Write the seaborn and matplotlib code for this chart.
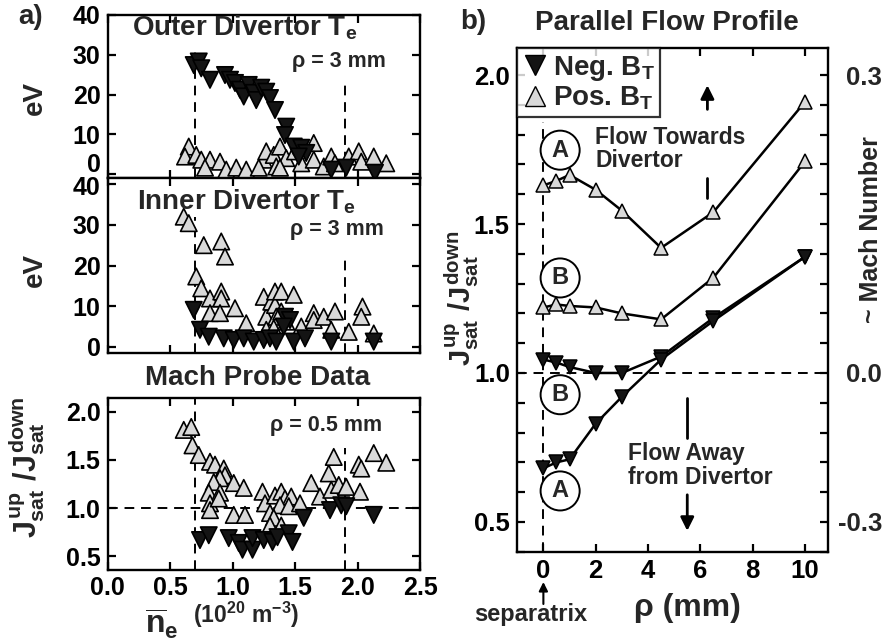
import numpy as np
import pandas as pd
import matplotlib
matplotlib.use('Agg')
import matplotlib.pyplot as plt
from matplotlib.lines import Line2D
from matplotlib.ticker import MultipleLocator
from matplotlib.transforms import offset_copy
import seaborn as sns

# ---- values ----
# a) outer divertor Te (eV) vs line averaged density (1e20 m^-3)
outer_neg_ne = [0.69, 0.73, 0.75, 0.82, 0.94, 0.98, 1.02, 1.06, 1.09, 1.13, 1.17, 1.19, 1.23,
                1.27, 1.30, 1.34, 1.43, 1.42, 1.49, 1.55, 1.59, 1.53, 1.79, 1.91, 2.14]
outer_neg_te = [27.4, 28.3, 26.6, 23.7, 24.9, 23.7, 22.9, 21.2, 19.5, 22.4, 20.4, 18.6, 21.7,
                20.7, 19.1, 16.1, 11.9, 9.8, 6.9, 6.6, 5.3, 4.4, 1.1, 1.6, 0.3]
outer_pos_ne = [0.65, 0.62, 0.71, 0.75, 0.82, 0.90, 0.78, 0.95, 1.03, 1.11, 1.25, 1.27, 1.33, 1.38, 1.35,
                1.43, 1.50, 1.55, 1.65, 1.65, 1.73, 1.79, 1.82, 1.93, 2.01, 2.03, 2.13, 2.23, 1.38, 1.21]
outer_pos_te = [6.9, 4.4, 4.8, 3.6, 3.6, 3.1, 1.6, 1.1, 1.6, 1.1, 3.6, 5.7, 4.8, 6.9, 1.9,
                4.0, 5.7, 2.7, 7.8, 3.6, 1.9, 4.4, 2.7, 4.4, 5.7, 3.1, 4.4, 2.7, 1.6, 1.6]

# inner divertor Te
inner_neg_ne = [0.69, 0.74, 0.81, 0.93, 1.01, 1.09, 1.17, 1.25, 1.30, 1.35, 1.42, 1.46, 1.49,
                1.58, 1.79, 2.13, 1.41]
inner_neg_te = [9.1, 4.2, 2.5, 2.1, 1.7, 2.1, 1.3, 1.7, 2.1, 1.3, 7.4, 6.6, 1.3, 2.1, 1.3, 1.3, 5.0]
inner_pos_ne = [0.61, 0.65, 0.77, 0.91, 0.94, 0.71, 0.75, 0.82, 0.91, 0.91, 0.82, 0.90, 1.02, 1.11,
                1.25, 1.27, 1.31, 1.34, 1.34, 1.39, 1.49, 1.35, 1.27, 1.33, 1.39, 1.43, 1.55, 1.65,
                1.65, 1.73, 1.82, 1.79, 1.93, 2.04, 2.03, 2.13]
inner_pos_te = [32.0, 30.4, 25.0, 25.9, 22.2, 17.3, 14.4, 11.9, 13.6, 11.9, 8.3, 8.3, 9.5, 5.8,
                12.3, 7.4, 11.1, 13.6, 10.3, 13.6, 12.8, 7.4, 4.2, 4.6, 8.7, 6.2, 5.0, 8.3,
                6.6, 7.4, 8.7, 4.2, 3.7, 9.9, 7.4, 3.3]

# mach probe ratio Jsat_up / Jsat_down at rho = 0.5 mm
mach_neg_ne = [0.74, 0.81, 0.97, 1.05, 1.08, 1.16, 1.16, 1.25, 1.32, 1.36, 1.45, 1.48, 1.57,
               1.78, 1.87, 1.91, 2.13]
mach_neg_j = [0.67, 0.72, 0.69, 0.64, 0.57, 0.57, 0.69, 0.67, 0.65, 0.70, 0.74, 0.65, 0.90,
              0.98, 1.03, 1.02, 0.93]
mach_pos_ne = [0.61, 0.67, 0.68, 0.73, 0.82, 0.86, 0.93, 0.94, 0.90, 0.85, 1.01, 1.09, 0.81, 0.90,
               0.82, 0.82, 0.89, 1.01, 1.10, 1.24, 1.26, 1.30, 1.34, 1.39, 1.42, 1.47, 1.38, 1.45,
               1.33, 1.30, 1.39, 1.54, 1.63, 1.70, 1.77, 1.79, 1.81, 1.85, 1.91, 2.01, 2.03, 2.13,
               2.23, 2.02]
mach_pos_j = [1.81, 1.84, 1.65, 1.55, 1.48, 1.45, 1.41, 1.34, 1.31, 1.27, 1.26, 1.21, 1.16, 1.16,
              1.05, 0.98, 1.10, 0.93, 0.93, 1.17, 1.05, 0.95, 1.13, 1.17, 1.10, 1.12, 1.03, 1.02,
              0.90, 0.82, 0.82, 1.05, 1.26, 1.12, 1.36, 1.19, 1.53, 1.24, 1.22, 1.45, 1.41, 1.57,
              1.47, 1.17]

# b) parallel flow profile vs rho (mm)
rho = [0, 0.5, 1, 2, 3, 4.5, 6.5, 10]
pos_a = [1.63, 1.645, 1.665, 1.615, 1.545, 1.42, 1.54, 1.91]
pos_b = [1.22, 1.23, 1.225, 1.22, 1.20, 1.18, 1.32, 1.71]
neg_b = [1.045, 1.035, 1.02, 1.0, 1.0, 1.055, 1.185, 1.39]
neg_a = [0.68, 0.70, 0.71, 0.83, 0.92, 1.045, 1.175, 1.39]

ne_ticks = [0.0, 0.5, 1.0, 1.5, 2.0, 2.5]
te_ticks = [0, 10, 20, 30, 40]
mach_ticks = [0.5, 1.0, 1.5, 2.0]
rho_ticks = [0, 2, 4, 6, 8, 10]

sns.set_style('ticks')
plt.rcParams['font.family'] = ['Liberation Sans', 'DejaVu Sans']
plt.rcParams['font.weight'] = 'bold'
plt.rcParams['mathtext.fontset'] = 'custom'
plt.rcParams['mathtext.rm'] = 'Liberation Sans:bold'
plt.rcParams['mathtext.it'] = 'Liberation Sans:bold'
plt.rcParams['mathtext.bf'] = 'Liberation Sans:bold'

W, H = 888, 641
fig = plt.figure(figsize=(W / 100, H / 100), dpi=100)


def box(l, t, r, b):
    return fig.add_axes([l / W, 1 - b / H, (r - l) / W, (b - t) / H])


def txt(x, y, s, size, **kw):
    kw.setdefault('va', 'center')
    return fig.text(x / W, 1 - y / H, s, fontsize=size, fontweight='bold', **kw)


def style(ax, size, pad):
    ax.tick_params(which='both', direction='in', top=True, right=True, length=5.5, width=1.6,
                   labelsize=size, pad=pad, colors='black')
    ax.set_xlabel('')
    ax.set_ylabel('')
    for sp in ax.spines.values():
        sp.set_linewidth(1.7)
        sp.set_color('black')


ax1 = box(107.5, 15, 420, 178)
ax2 = box(107.5, 178, 420, 353)
ax3 = box(107.5, 398, 420, 570)
axb = box(516.7, 48.3, 828, 551.7)

pal = {'Neg': '#141414', 'Pos': '#d9d9d9'}
mk = {'Neg': 'v', 'Pos': '^'}

panels = [
    (ax1, outer_neg_ne, outer_neg_te, outer_pos_ne, outer_pos_te),
    (ax2, inner_neg_ne, inner_neg_te, inner_pos_ne, inner_pos_te),
    (ax3, mach_neg_ne, mach_neg_j, mach_pos_ne, mach_pos_j),
]
for ax, nx, ny, px, py in panels:
    df = pd.concat([pd.DataFrame({'ne': px, 'val': py, 'field': 'Pos'}),
                    pd.DataFrame({'ne': nx, 'val': ny, 'field': 'Neg'})], ignore_index=True)
    sns.scatterplot(data=df, x='ne', y='val', hue='field', style='field', palette=pal,
                    markers=mk, s=140, edgecolor='black', linewidth=1.2, legend=False,
                    ax=ax, zorder=3)
    style(ax, 18, 5)
    ax.set_xlim(0, 2.5)
    ax.set_xticks(ne_ticks, [f'{v:.1f}' for v in ne_ticks])

dash = dict(color='black', lw=1.4, ls=(0, (5, 3.5)), zorder=2)

ax1.set_ylim(-1, 40)
ax1.set_yticks(te_ticks, [str(v) for v in te_ticks])
ax1.tick_params(labelbottom=False)
lab0 = ax1.yaxis.get_major_ticks()[0].label1
lab0.set_transform(offset_copy(lab0.get_transform(), fig=fig, y=8, units='points'))
ax1.axvline(0.7, ymax=0.785, **dash)
ax1.axvline(1.9, ymax=0.58, **dash)

ax2.set_ylim(-1.5, 41.5)
ax2.set_yticks(te_ticks, [str(v) for v in te_ticks])
ax2.tick_params(labelbottom=False)
lab40 = ax2.yaxis.get_major_ticks()[-1].label1
lab40.set_transform(offset_copy(lab40.get_transform(), fig=fig, y=-1, units='points'))
ax2.axvline(0.7, ymax=0.78, **dash)
ax2.axvline(1.9, ymax=0.55, **dash)

ax3.set_ylim(0.36, 2.14)
ax3.set_yticks(mach_ticks, [f'{v:.1f}' for v in mach_ticks])
ax3.tick_params(axis='x', pad=4)
ax3.axvline(0.7, **dash)
ax3.axvline(1.9, ymax=0.71, **dash)
ax3.axhline(1.0, **dash)

# ---- b) parallel flow profile ----
curves = [(pos_a, '^', '#d9d9d9'), (pos_b, '^', '#d9d9d9'),
          (neg_b, 'v', '#141414'), (neg_a, 'v', '#141414')]
for vals, m, fc in curves:
    sns.lineplot(x=rho, y=vals, ax=axb, color='black', lw=1.8, marker=m, markersize=10,
                 markerfacecolor=fc, markeredgecolor='black', markeredgewidth=1.1,
                 legend=False, zorder=3)
style(axb, 18.5, 5)
axb.set_xlim(-1.02, 10.88)
axb.set_xticks(rho_ticks, [str(v) for v in rho_ticks])
axb.set_ylim(0.40, 2.09)
axb.set_yticks(mach_ticks, [f'{v:.1f}' for v in mach_ticks])
axb.yaxis.set_minor_locator(MultipleLocator(0.1))
axb.tick_params(axis='x', which='minor', bottom=False, top=False)
axb.axhline(1.0, **dash)
axb.axvline(0.0, ymax=0.854, **dash)

k = 0.3 / np.log(2)
sec = axb.secondary_yaxis('right', functions=(lambda j: k * np.log(np.clip(j, 1e-6, None)),
                                              lambda m: np.exp(m / k)))
sec.set_yticks([-0.3, 0.0, 0.3], ['-0.3', '0.0', '0.3'])
sec.tick_params(direction='in', length=0, labelsize=18.5, pad=39)
for lab in sec.get_yticklabels():
    lab.set_ha('right')
sec.spines['right'].set_visible(False)

handles = [Line2D([], [], ls='none', marker='v', markersize=15, mfc='#141414', mec='black'),
           Line2D([], [], ls='none', marker='^', markersize=15, mfc='#d9d9d9', mec='black')]
leg = axb.legend(handles, ['Neg. B$_T$', 'Pos. B$_T$'], loc='upper left', fontsize=20,
                 frameon=True, fancybox=False, borderaxespad=0, handletextpad=0.2,
                 handlelength=0.9, borderpad=0.2, labelspacing=0.05)
leg.get_frame().set_edgecolor('black')
leg.get_frame().set_linewidth(1.6)

circ = dict(boxstyle='circle,pad=0.34', fc='white', ec='black', lw=1.4)
for (cx, cy, s) in [(0.64, 1.748, 'A'), (0.64, 1.319, 'B'), (0.64, 0.927, 'B'), (0.64, 0.604, 'A')]:
    axb.text(cx, cy, s, ha='center', va='center', fontsize=17, fontweight='bold', bbox=circ, zorder=4)

axb.text(1.98, 1.752, 'Flow Towards\nDivertor', fontsize=16.5, fontweight='bold', va='center',
         linespacing=1.05)
axb.text(3.25, 0.690, 'Flow Away\nfrom Divertor', fontsize=16.5, fontweight='bold', va='center',
         linespacing=1.05)
arr = dict(arrowstyle='-|>', color='black', lw=2.0, mutation_scale=20, shrinkA=0, shrinkB=0)
axb.annotate('', xy=(6.27, 1.966), xytext=(6.27, 1.885), arrowprops=arr)
axb.plot([6.27, 6.27], [1.587, 1.654], color='black', lw=2.0)
axb.plot([5.5, 5.5], [0.782, 0.916], color='black', lw=2.0)
axb.annotate('', xy=(5.5, 0.470), xytext=(5.5, 0.591), arrowprops=arr)
axb.annotate('', xy=(0, 1 - 582 / H), xytext=(0, 1 - 604 / H),
             xycoords=('data', 'figure fraction'), textcoords=('data', 'figure fraction'),
             arrowprops=dict(arrowstyle='-|>', color='black', lw=1.5, mutation_scale=13,
                             shrinkA=0, shrinkB=0), annotation_clip=False)

# ---- titles and labels ----
txt(18, 17, 'a)', 20)
txt(460, 22, 'b)', 20)
txt(132, 28, 'Outer Divertor T$_e$', 20)
txt(292, 62, 'ρ = 3 mm', 15.5)
txt(137, 202, 'Inner Divertor T$_e$', 20)
txt(290, 230, 'ρ = 3 mm', 15.5)
txt(258, 378, 'Mach Probe Data', 20, ha='center')
txt(270, 425, 'ρ = 0.5 mm', 15.5)
txt(35, 98, 'eV', 20, ha='center', rotation=90)
txt(35, 270, 'eV', 20, ha='center', rotation=90)
txt(27, 467, r'$J^{up}_{sat}\ /J^{down}_{sat}$', 22, ha='center', rotation=90)
txt(162, 624, r'$\overline{n}_e$', 23, ha='center')
txt(193, 615, r'(10$^{20}$ m$^{-3}$)', 16.5)
txt(667, 23, 'Parallel Flow Profile', 20, ha='center')
txt(687, 608, 'ρ (mm)', 23, ha='center')
txt(531, 615, 'separatrix', 17, ha='center')
txt(462, 298, r'$J^{up}_{sat}\ /J^{down}_{sat}$', 21, ha='center', rotation=90)
txt(871, 230, '~ Mach Number', 18, ha='center', rotation=90)

fig.savefig('out.png', dpi=100)
